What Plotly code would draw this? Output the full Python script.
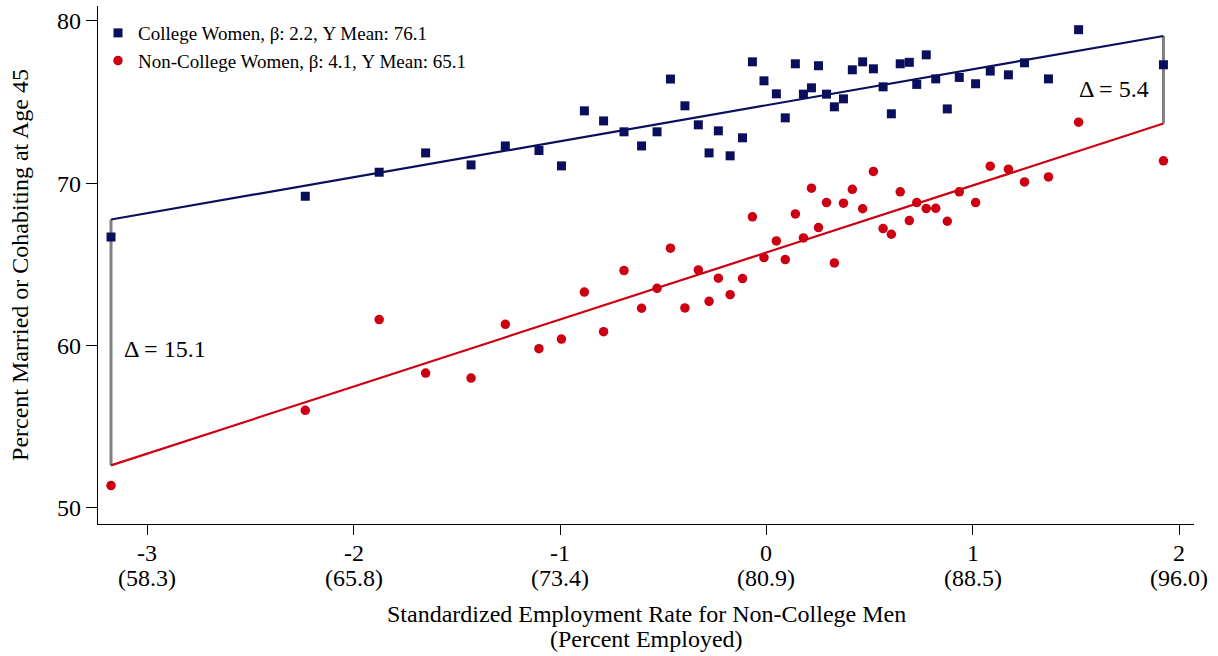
import plotly.graph_objects as go

# ---- data ----
std_employment = [-3.175, -2.234, -1.876, -1.651, -1.431, -1.265, -1.102, -0.993, -0.882, -0.789,
                  -0.690, -0.605, -0.530, -0.465, -0.395, -0.330, -0.278, -0.233, -0.176, -0.116,
                  -0.068, -0.012, 0.048, 0.091, 0.140, 0.179, 0.218, 0.252, 0.291, 0.329,
                  0.373, 0.416, 0.466, 0.518, 0.565, 0.605, 0.648, 0.692, 0.728, 0.774,
                  0.820, 0.876, 0.934, 1.013, 1.084, 1.172, 1.250, 1.366, 1.512, 1.923]

college_women = [66.68, 69.19, 70.67, 71.86, 71.12, 72.29, 72.01, 71.06, 74.45, 73.83,
                 73.16, 72.29, 73.16, 76.41, 74.76, 73.59, 71.86, 73.22, 71.68, 72.79,
                 77.47, 76.30, 75.50, 74.02, 77.35, 75.48, 75.87, 77.23, 75.48, 74.70,
                 75.19, 76.98, 77.47, 77.04, 75.93, 74.27, 77.35, 77.44, 76.08, 77.90,
                 76.42, 74.57, 76.51, 76.12, 76.90, 76.67, 77.41, 76.42, 79.45, 77.29]

noncollege_women = [51.37, 56.00, 61.59, 58.30, 57.99, 61.30, 59.80, 60.39, 63.29, 60.85,
                    64.61, 62.29, 63.52, 65.99, 62.31, 64.65, 62.72, 64.14, 63.13, 64.12,
                    67.92, 65.41, 66.44, 65.29, 68.10, 66.62, 69.69, 67.26, 68.80, 65.08,
                    68.76, 69.62, 68.42, 70.72, 67.20, 66.85, 69.46, 67.69, 68.80, 68.43,
                    68.45, 67.65, 69.46, 68.80, 71.04, 70.86, 70.07, 70.38, 73.75, 71.37]

fit_x = [-3.175, 1.923]
college_fit = [67.76, 79.06]
noncollege_fit = [52.61, 73.67]

delta_labels = ["Δ = 15.1", "Δ = 5.4"]
delta_label_pos_y = [59.76, 75.77]
delta_label_x = [-3.12, 1.505]

x_tickvals = [-3, -2, -1, 0, 1, 2]
x_ticktext = ["-3", "-2", "-1", "0", "1", "2"]
x_tick_pct = ["(58.3)", "(65.8)", "(73.4)", "(80.9)", "(88.5)", "(96.0)"]
y_tickvals = [50, 60, 70, 80]

x_title_lines = ["Standardized Employment Rate for Non-College Men", "(Percent Employed)"]
y_title = "Percent Married or Cohabiting at Age 45"

legend_names = ["College Women, β: 2.2, Y Mean: 76.1",
                "Non-College Women, β: 4.1, Y Mean: 65.1"]

NAVY = "#0b0e5c"
RED = "#cc0012"
GRAY = "#808080"
FONT = "Times New Roman, Liberation Serif, Times, serif"

W, H = 1218, 656
M_L, M_R, M_T, M_B = 98, 24, 6, 132
PLOT_H = H - M_T - M_B
BOTTOM = H - M_B


def paper_y(py):
    return -(py - BOTTOM) / PLOT_H


fig = go.Figure()

# gap (delta) lines
for i in range(2):
    fig.add_trace(go.Scatter(x=[fit_x[i], fit_x[i]], y=[noncollege_fit[i], college_fit[i]],
                             mode="lines", line=dict(color=GRAY, width=3),
                             showlegend=False, hoverinfo="skip"))

fig.add_trace(go.Scatter(x=fit_x, y=college_fit, mode="lines",
                         line=dict(color=NAVY, width=2.2), showlegend=False, hoverinfo="skip"))
fig.add_trace(go.Scatter(x=fit_x, y=noncollege_fit, mode="lines",
                         line=dict(color=RED, width=2.2), showlegend=False, hoverinfo="skip"))

fig.add_trace(go.Scatter(x=std_employment, y=college_women, mode="markers",
                         name=legend_names[0],
                         marker=dict(symbol="square", size=9, color=NAVY, line=dict(width=0))))
fig.add_trace(go.Scatter(x=std_employment, y=noncollege_women, mode="markers",
                         name=legend_names[1],
                         marker=dict(symbol="circle", size=9.5, color=RED, line=dict(width=0))))

for i in range(2):
    fig.add_annotation(x=delta_label_x[i], y=delta_label_pos_y[i], text=delta_labels[i],
                       showarrow=False, xanchor="left", yanchor="middle",
                       font=dict(family=FONT, size=24, color="black"))

# two-line x tick labels (standardized value, percent employed)
for v, t1, t2 in zip(x_tickvals, x_ticktext, x_tick_pct):
    for t, py in ((t1, 552.5), (t2, 577.5)):
        fig.add_annotation(x=v, xref="x", y=paper_y(py), yref="paper", text=t,
                           showarrow=False, xanchor="center", yanchor="middle",
                           font=dict(family=FONT, size=24, color="black"))

# x-axis title (two lines)
for line, py in zip(x_title_lines, [613.5, 638.5]):
    fig.add_annotation(x=0.5, xref="paper", y=paper_y(py), yref="paper", text=line,
                       showarrow=False, xanchor="center", yanchor="middle",
                       font=dict(family=FONT, size=24, color="black"))

fig.update_layout(
    width=W, height=H,
    margin=dict(l=M_L, r=M_R, t=M_T, b=M_B, autoexpand=False),
    paper_bgcolor="white", plot_bgcolor="white",
    font=dict(family=FONT, size=24, color="black"),
    legend=dict(x=0, y=0.9845, xanchor="left", yanchor="top",
                font=dict(family=FONT, size=19, color="black"),
                bgcolor="rgba(0,0,0,0)", itemwidth=30),
    showlegend=True,
)

fig.update_xaxes(range=[-3.238, 2.071], tickvals=x_tickvals, showticklabels=False,
                 showgrid=False, zeroline=False, showline=True, linecolor="black", linewidth=1.3,
                 ticks="outside", ticklen=10, tickcolor="black", tickwidth=1.3, automargin=False)
fig.update_yaxes(range=[49.0, 80.91], tickvals=y_tickvals,
                 showgrid=False, zeroline=False, showline=True, linecolor="black", linewidth=1.3,
                 ticks="outside", ticklen=11, tickcolor="black", tickwidth=1.3, automargin=False,
                 tickfont=dict(family=FONT, size=24),
                 title=dict(text=y_title, font=dict(family=FONT, size=24), standoff=21))

fig.write_html("out.html")
